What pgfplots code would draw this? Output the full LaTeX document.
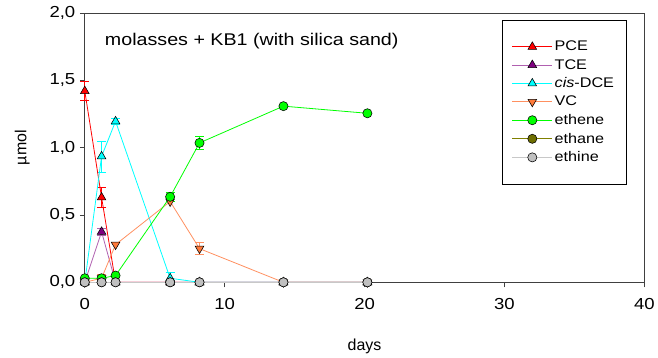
\documentclass[border=0pt]{standalone}
\usepackage{pgfplots}
\pgfplotsset{compat=1.18}
\usepackage{fontspec}
\setmainfont[FakeStretch=1.16]{Liberation Sans}
\newfontfamily\plainfont{Liberation Sans}
\definecolor{pcel}{HTML}{FF0000}
\definecolor{tcel}{HTML}{B060B0}
\definecolor{tcem}{HTML}{800080}
\definecolor{dcel}{HTML}{00FFFF}
\definecolor{vcl}{HTML}{FF9060}
\definecolor{vcm}{HTML}{FF7A3A}
\definecolor{enel}{HTML}{00FF00}
\definecolor{anel}{HTML}{808000}
\definecolor{anem}{HTML}{6E6E00}
\definecolor{inel}{HTML}{C8C8C8}
\definecolor{inem}{HTML}{C0C0C0}
\pgfplotsset{mk/.style={mark options={solid, draw=black, line width=0.55bp, fill=#1}},
  mkr/.style={mark options={solid, draw=black, line width=0.55bp, fill=#1, rotate=180}},
  eb/.style={forget plot, draw=none, mark=none, error bars/.cd, y dir=both, y explicit,
  error bar style={#1, line width=0.8bp}, error mark options={rotate=90, #1, mark size=4.5bp, line width=0.8bp}}}
\begin{document}
\begin{tikzpicture}
\begin{axis}[
  name=ax,
  scale only axis,
  width=561bp, height=270bp,
  xmin=0, xmax=40, ymin=0, ymax=2,
  xtick={0,10,20,30,40},
  ytick={0,0.5,1,1.5,2},
  tick align=outside,
  xtick pos=bottom, ytick pos=left,
  major tick length=5bp,
  axis line style={black!75, line width=0.8bp},
  tick style={black!75, line width=0.8bp},
  tick label style={font=\fontsize{16bp}{18bp}\selectfont},
  /pgf/number format/assume math mode=true,
  yticklabel style={xshift=-1bp, /pgf/number format/.cd, fixed, fixed zerofill, precision=1, use comma},
  xticklabel style={yshift=-8bp, /pgf/number format/.cd, fixed},
  xlabel={days}, ylabel={µmol},
  label style={font=\plainfont\fontsize{16bp}{18bp}\selectfont},
  xlabel style={yshift=-22bp},
  ylabel style={yshift=13bp},
  clip=false,
  legend cell align=left,
  legend style={at={(0.745,0.974)}, anchor=north west, draw=black, line width=0.6bp,
    font=\fontsize{14bp}{15bp}\selectfont, inner xsep=10bp, inner ysep=19bp,
    row sep=3bp},
  legend image code/.code={%
    \draw[#1, mark repeat=2, mark phase=2] plot coordinates {(0bp,0bp) (20bp,0bp) (40bp,0bp)};},
  every axis plot/.append style={line width=0.8bp},
]
% error bars
\addplot[eb=pcel] coordinates {(0,1.42) +- (0,0.07) (1.2,0.63) +- (0,0.075)};
\addplot[eb=tcel] coordinates {(1.2,0.375) +- (0,0.025)};
\addplot[eb=dcel] coordinates {(1.2,0.935) += (0,0.11) -= (0,0.12) (2.2,1.195) +- (0,0.02) (6.1,0.03) +- (0,0.04)};
\addplot[eb=vcl] coordinates {(1.2,0.03) +- (0,0.03) (8.2,0.25) +- (0,0.045)};
\addplot[eb=enel] coordinates {(6.1,0.635) +- (0,0.035) (8.2,1.035) +- (0,0.045)};
% series
\addplot[pcel, mark=triangle*, mark size=5bp, mk=pcel]
  coordinates {(0,1.42) (1.2,0.63) (2.2,0) (6.1,0) (8.2,0) (14.2,0) (20.2,0)};
\addlegendentry{PCE}
\addplot[tcel, mark=triangle*, mark size=5bp, mk=tcem]
  coordinates {(0,0) (1.2,0.375) (2.2,0) (6.1,0) (8.2,0) (14.2,0) (20.2,0)};
\addlegendentry{TCE}
\addplot[dcel, mark=triangle*, mark size=5bp, mk=dcel]
  coordinates {(0,0) (1.2,0.935) (2.2,1.195) (6.1,0.03) (8.2,0) (14.2,0) (20.2,0)};
\addlegendentry{\textit{cis}-DCE}
\addplot[vcl, mark=triangle*, mark size=5bp, mkr=vcm]
  coordinates {(0,0) (1.2,0.03) (2.2,0.28) (6.1,0.6) (8.2,0.25) (14.2,0) (20.2,0)};
\addlegendentry{VC}
\addplot[enel, mark=*, mark size=4.6bp, mk=enel]
  coordinates {(0,0.03) (1.2,0.03) (2.2,0.05) (6.1,0.635) (8.2,1.035) (14.2,1.308) (20.2,1.255)};
\addlegendentry{ethene}
\addplot[anel, mark=*, mark size=4.6bp, mk=anem]
  coordinates {(0,0) (1.2,0) (2.2,0) (6.1,0) (8.2,0) (14.2,0) (20.2,0)};
\addlegendentry{ethane}
\addplot[inel, mark=*, mark size=4.6bp, mk=inem]
  coordinates {(0,0) (1.2,0) (2.2,0) (6.1,0) (8.2,0) (14.2,0) (20.2,0)};
\addlegendentry{ethine}
\node[anchor=west, font=\fontsize{17bp}{19bp}\selectfont, inner sep=0pt] at (axis cs:1.43,1.788) {molasses + KB1 (with silica sand)};
\end{axis}
\path ([xshift=-85bp,yshift=-71bp]ax.south west) rectangle ([xshift=12bp,yshift=13bp]ax.north east);
\end{tikzpicture}
\end{document}
